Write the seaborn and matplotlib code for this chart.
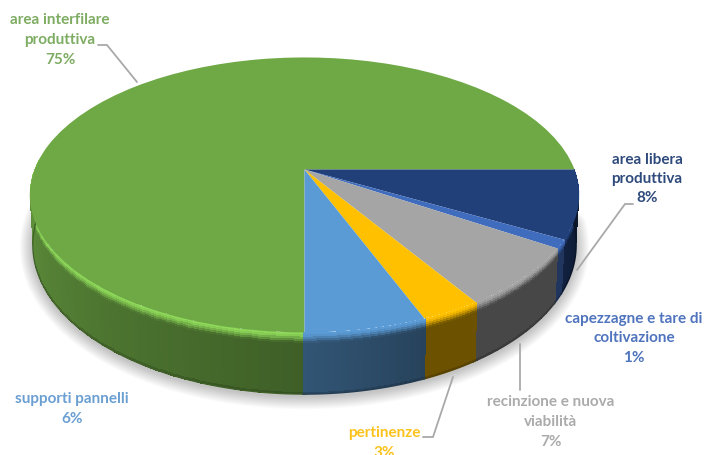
import numpy as np
import matplotlib
matplotlib.use("Agg")
import matplotlib.pyplot as plt
from matplotlib.transforms import Transform
import seaborn as sns

# Land use shares, clockwise from six o'clock
categories = ["area interfilare\nproduttiva", "area libera\nproduttiva",
              "capezzagne e tare di\ncoltivazione", "recinzione e nuova\nviabilità",
              "pertinenze", "supporti pannelli"]
shares = [75, 8, 1, 7, 3, 6]
slice_colors = ["#6fa946", "#21407a", "#3f6cbc", "#a5a5a5", "#ffc000", "#5b9bd5"]
label_colors = ["#7dac62", "#2f4a7c", "#4f74bd", "#ababab", "#fcc21c", "#6b9fd2"]

# Wall shading at the clockwise start and end of each slice
wall_shade_start = [0.56, 0.30, 0.50, 0.43, 0.42, 0.43]
wall_shade_end = [0.88, 0.52, 0.50, 0.43, 0.42, 0.55]
rim_highlight = [1.28, 1.0, 1.0, 1.0, 1.0, 1.0]

# Layout, in pixels from the top left corner
WIDTH, HEIGHT = 704, 455
APEX_X = 304.5
TOP_RIM = dict(apex_y=169.5, a=270.0, c=132.8, k=0.185)
BOTTOM_RIM = dict(apex_y=217.5, a=267.0, c=144.0, k=0.185)
label_centers = [(60, 40), (647, 179), (634, 338), (551, 422), (384, 443), (72, 409)]
leaders = [[(137, 82), (107, 45), (98, 45)],
           [(577, 270), (625, 204), (633, 204)],
           [(520, 344), (520, 390)],
           [(453, 377), (433, 437), (423, 437)]]


def project(x, y, apex_y, a, c, k):
    """Perspective view of a point on the unit disc, in pixels."""
    den = 1 + k * y
    return APEX_X + a * x / den, apex_y - c * y / den


class DiscView(Transform):
    input_dims = output_dims = 2
    is_separable = False
    has_inverse = False

    def transform_non_affine(self, values):
        values = np.asarray(values, dtype=float)
        px, py = project(values[:, 0], values[:, 1], **TOP_RIM)
        return np.column_stack([px, py])


def mix(a, b, f):
    return a * (1 - f) + b * f


sns.set_theme(style="white")
plt.rcParams["font.family"] = ["Lato", "DejaVu Sans"]
palette = sns.color_palette(slice_colors)

fig = plt.figure(figsize=(WIDTH / 100, HEIGHT / 100), dpi=100, facecolor="white")
ax = fig.add_axes([0, 0, 1, 1])

wedges, _ = ax.pie(shares, colors=palette, startangle=270, counterclock=False,
                   radius=1, wedgeprops=dict(linewidth=0, zorder=5))
view = DiscView() + ax.transData
for wedge in wedges:
    wedge.set_transform(view)
ax.set_aspect("auto")
ax.set_xlim(0, WIDTH)
ax.set_ylim(HEIGHT, 0)
ax.axis("off")

# Soft shadow under the lower rim
fractions = np.cumsum([0] + shares) / sum(shares)
angles = np.deg2rad(270 - 360 * fractions)
sweep = np.linspace(np.deg2rad(178), np.deg2rad(358), 240)
sx, sy = project(np.cos(sweep), np.sin(sweep), **BOTTOM_RIM)
for width in np.linspace(2, 26, 12):
    ax.plot(sx, sy + 2, color="black", lw=width * 0.72, alpha=0.018, zorder=1,
            solid_capstyle="round")

# Side wall of each visible slice, shaded along the rim and down its height
bands = np.linspace(0, 1, 31)
for i, rgb in enumerate(palette):
    start, end = angles[i], angles[i + 1]
    if i == 0:
        end = np.deg2rad(176)
    # Walls overlap slightly so no gap shows between neighbours
    t = np.linspace(start + 0.006, end - 0.006, 90)
    tx, ty = project(np.cos(t), np.sin(t), **TOP_RIM)
    bx, by = project(np.cos(t), np.sin(t), **BOTTOM_RIM)
    X = np.outer(1 - bands, tx) + np.outer(bands, bx)
    Y = np.outer(1 - bands, ty) + np.outer(bands, by)

    base = np.array(rgb)
    along = np.linspace(wall_shade_start[i], wall_shade_end[i], t.size - 1)
    s = (bands[:-1] + bands[1:]) / 2
    colors = np.zeros((s.size, along.size, 3))
    for r, sv in enumerate(s):
        wall = base[None, :] * along[:, None]
        if sv < 0.16:
            lit = np.clip(base * rim_highlight[i], 0, 1)
            shade = mix(lit, wall, min(1.0, max(0.0, (sv - 0.03) / 0.13)) ** 1.2)
        elif sv > 0.95:
            shade = wall * 0.85
        else:
            shade = wall
        colors[r] = shade
    ax.pcolormesh(X, Y, colors, shading="flat", linewidth=0, zorder=3 + i * 0.01,
                  antialiased=False)
    # Smooth the lower and outer edge of the wall
    ax.plot(bx, by, color=base * along.mean() * 0.8, lw=0.9, zorder=4)

# Leader lines and slice labels
for points in leaders:
    xs, ys = zip(*points)
    ax.plot(xs, ys, color="#a9a9a9", lw=1.3, zorder=6, solid_joinstyle="miter")

for name, share, color, (x, y) in zip(categories, shares, label_colors, label_centers):
    ax.text(x, y, f"{name}\n{share}%", color=color, fontsize=11, fontweight="bold",
            ha="center", va="center", linespacing=1.5, zorder=7)

fig.savefig("out.png", dpi=100, facecolor="white")
